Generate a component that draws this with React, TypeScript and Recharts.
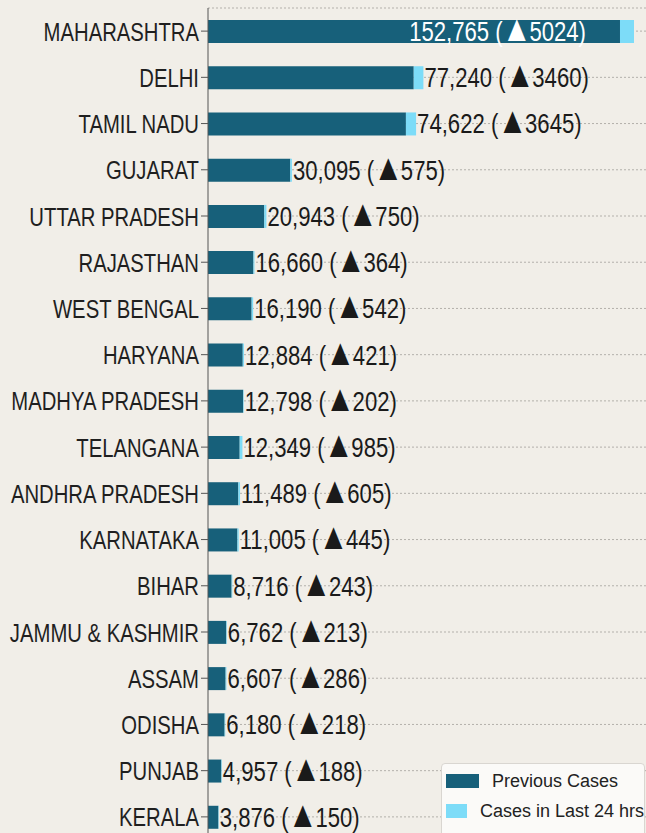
import React from "react";
import {
  Bar,
  BarChart,
  CartesianGrid,
  LabelList,
  XAxis,
  YAxis,
} from "recharts";

const states = [
  "MAHARASHTRA",
  "DELHI",
  "TAMIL NADU",
  "GUJARAT",
  "UTTAR PRADESH",
  "RAJASTHAN",
  "WEST BENGAL",
  "HARYANA",
  "MADHYA PRADESH",
  "TELANGANA",
  "ANDHRA PRADESH",
  "KARNATAKA",
  "BIHAR",
  "JAMMU & KASHMIR",
  "ASSAM",
  "ODISHA",
  "PUNJAB",
  "KERALA",
];

const totalCases = [
  152765, 77240, 74622, 30095, 20943, 16660, 16190, 12884, 12798, 12349, 11489,
  11005, 8716, 6762, 6607, 6180, 4957, 3876,
];

const newCases = [
  5024, 3460, 3645, 575, 750, 364, 542, 421, 202, 985, 605, 445, 243, 213, 286,
  218, 188, 150,
];

const legendLabels = ["Previous Cases", "Cases in Last 24 hrs"];

const data = states.map((name, i) => ({
  name,
  previous: totalCases[i] - newCases[i],
  latest: newCases[i],
  total: totalCases[i],
}));

const FONT = "'Liberation Sans', Arial, sans-serif";
const DARK = "#17607a";
const LIGHT = "#7ddcf8";
const BG = "#f1eee8";

// condensed look: plain sans squeezed horizontally
function StateTick(props: any) {
  const { x, y, payload } = props;
  return (
    <text
      transform={`translate(${x},${y + 9.5}) scale(0.78,1)`}
      textAnchor="end"
      fill="#1f1f1f"
      fontSize={26}
      fontFamily={FONT}
    >
      {payload.value}
    </text>
  );
}

function ValueLabel(props: any) {
  const { x, y, width, height, index } = props;
  const d = data[index];
  const end = x + width;
  const inside = end + 175 > 646;
  const base = y + height / 2 + 9.5;
  const content = (
    <>
      {`${d.total.toLocaleString("en-US")} (`}
      <tspan fontSize={37} dx={-1}>{"\u25B2"}</tspan>
      <tspan dx={-3}>{`${d.latest})`}</tspan>
    </>
  );
  if (inside) {
    return (
      <text
        transform={`translate(${x - 34},${base}) scale(0.82,1)`}
        textAnchor="end"
        fill="#ffffff"
        fontSize={27}
        fontFamily={FONT}
      >
        {content}
      </text>
    );
  }
  return (
    <text
      transform={`translate(${end + 1},${base}) scale(0.82,1)`}
      textAnchor="start"
      fill="#1a1a1a"
      fontSize={27}
      fontFamily={FONT}
    >
      {content}
    </text>
  );
}

function LegendBox() {
  const colors = [DARK, LIGHT];
  return (
    <div
      style={{
        position: "absolute",
        left: 441,
        top: 763,
        width: 204,
        height: 80,
        background: "#fbfaf8",
        border: "1px solid #d9d6d1",
        borderRadius: 4,
        boxSizing: "border-box",
        paddingTop: 2,
      }}
    >
      {legendLabels.map((label, i) => (
        <div
          key={label}
          style={{ display: "flex", alignItems: "center", height: 30, paddingLeft: 4 }}
        >
          <div style={{ width: 33, height: 14, background: colors[i], marginRight: 13 }} />
          <span
            style={{
              whiteSpace: "nowrap",
              fontSize: 18,
              color: "#222",
              fontFamily: FONT,
            }}
          >
            {label}
          </span>
        </div>
      ))}
    </div>
  );
}

export default function App() {
  return (
    <div
      style={{
        position: "fixed",
        left: 0,
        top: 0,
        width: 646,
        height: 833,
        overflow: "hidden",
        background: BG,
      }}
    >
      <BarChart
        width={696}
        height={840}
        data={data}
        layout="vertical"
        margin={{ top: 8, right: 0, bottom: 0, left: 0 }}
        barSize={23}
      >
        <CartesianGrid vertical={false} stroke="#b3b0ab" strokeDasharray="2 2" />
        <XAxis
          type="number"
          orientation="top"
          domain={[0, 175000]}
          height={0}
          tick={false}
          tickLine={false}
          axisLine={{ stroke: "#555" }}
        />
        <YAxis
          type="category"
          dataKey="name"
          width={208}
          interval={0}
          tickSize={7}
          tickMargin={2}
          tickLine={{ stroke: "#555" }}
          axisLine={{ stroke: "#555" }}
          tick={<StateTick />}
        />
        <Bar dataKey="previous" stackId="a" fill={DARK} isAnimationActive={false} />
        <Bar dataKey="latest" stackId="a" fill={LIGHT} isAnimationActive={false}>
          <LabelList dataKey="latest" content={<ValueLabel />} />
        </Bar>
      </BarChart>
      <LegendBox />
    </div>
  );
}
